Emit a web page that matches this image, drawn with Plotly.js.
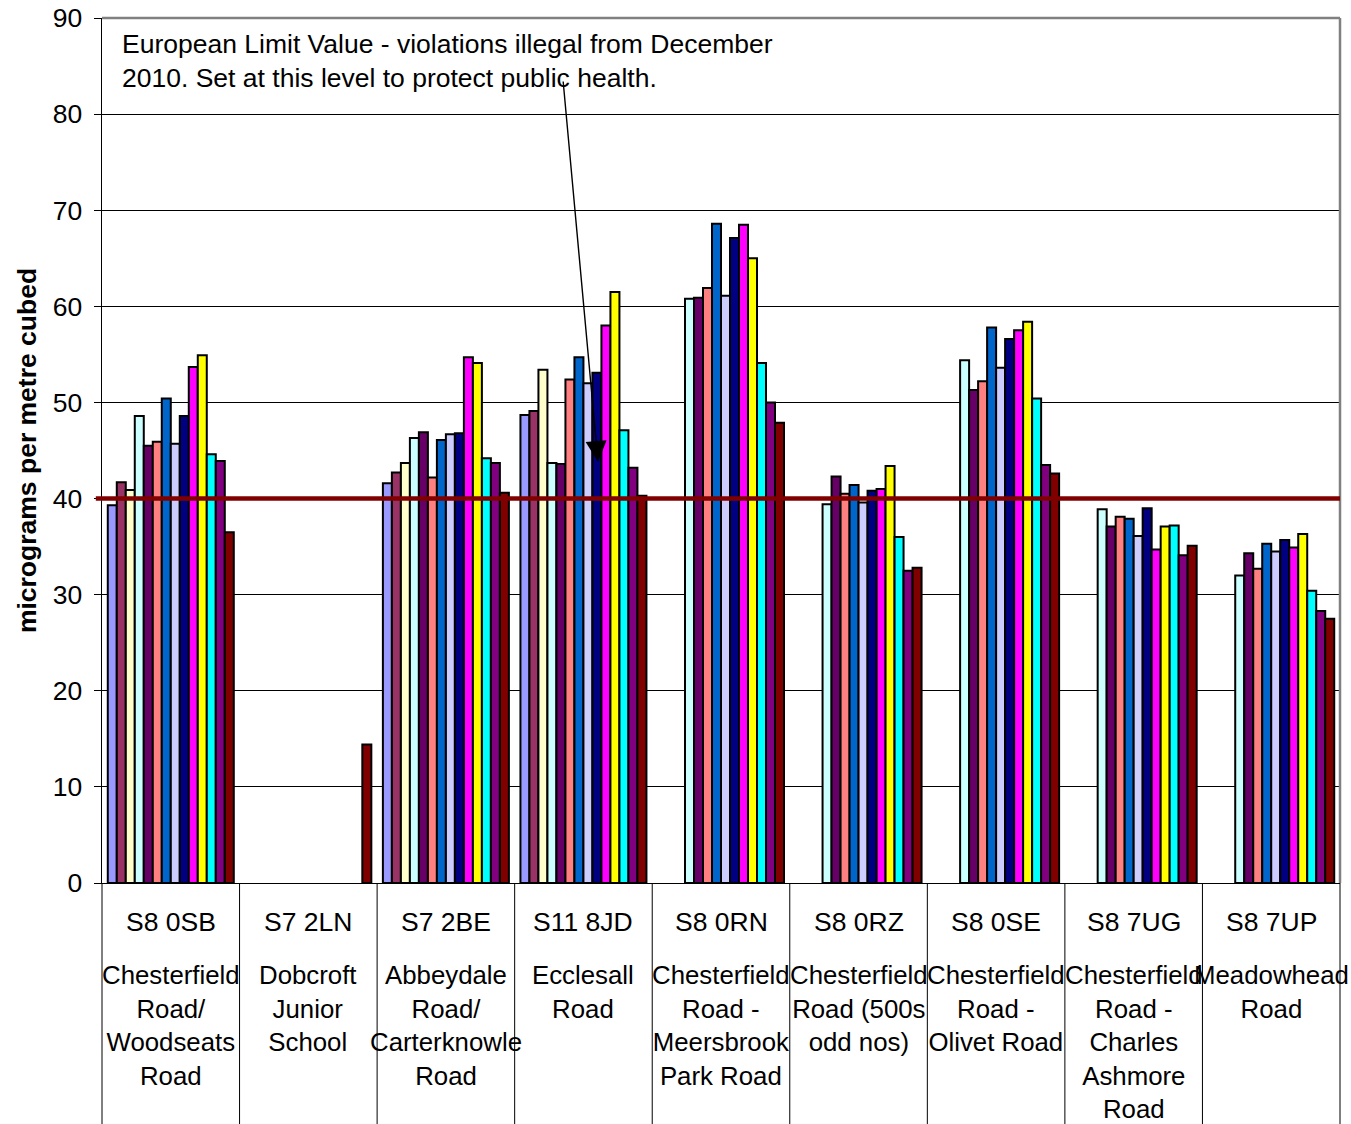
<!DOCTYPE html>
<html>
<head>
<meta charset="utf-8">
<script src="https://cdn.plot.ly/plotly-3.0.1.min.js"></script>
<style>html,body{margin:0;padding:0;background:#fff;}#chart{width:1351px;height:1124px;}</style>
</head>
<body>
<div id="chart"></div>
<script>
// ---- data ----
const siteCodes = ["S8 0SB","S7 2LN","S7 2BE","S11 8JD","S8 0RN","S8 0RZ","S8 0SE","S8 7UG","S8 7UP"];
const siteNames = [
  "Chesterfield<br>Road/<br>Woodseats<br>Road",
  "Dobcroft<br>Junior<br>School",
  "Abbeydale<br>Road/<br>Carterknowle<br>Road",
  "Ecclesall<br>Road",
  "Chesterfield<br>Road -<br>Meersbrook<br>Park Road",
  "Chesterfield<br>Road (500s<br>odd nos)",
  "Chesterfield<br>Road -<br>Olivet Road",
  "Chesterfield<br>Road -<br>Charles<br>Ashmore<br>Road",
  "Meadowhead<br>Road"
];
const series01 = [39.3, null, 41.6, 48.7, null, null, null, null, null];
const series02 = [41.7, null, 42.7, 49.1, null, null, null, null, null];
const series03 = [40.9, null, 43.7, 53.4, null, null, null, null, null];
const series04 = [48.6, null, 46.3, 43.7, 60.8, 39.4, 54.4, 38.9, 32.0];
const series05 = [45.5, null, 46.9, 43.6, 60.9, 42.3, 51.3, 37.1, 34.3];
const series06 = [45.9, null, 42.2, 52.4, 61.9, 40.5, 52.2, 38.1, 32.7];
const series07 = [50.4, null, 46.1, 54.7, 68.6, 41.4, 57.8, 37.9, 35.3];
const series08 = [45.7, null, 46.7, 52.0, 61.1, 39.6, 53.6, 36.1, 34.5];
const series09 = [48.6, null, 46.8, 53.1, 67.1, 40.8, 56.6, 39.0, 35.7];
const series10 = [53.7, null, 54.7, 58.0, 68.5, 41.0, 57.5, 34.7, 34.9];
const series11 = [54.9, null, 54.1, 61.5, 65.0, 43.4, 58.4, 37.1, 36.3];
const series12 = [44.6, null, 44.2, 47.1, 54.1, 36.0, 50.4, 37.2, 30.4];
const series13 = [43.9, null, 43.7, 43.2, 50.0, 32.5, 43.5, 34.1, 28.3];
const series14 = [36.5, 14.4, 40.6, 40.3, 47.9, 32.8, 42.6, 35.1, 27.5];
const limitValue = 40;
const yTickVals = [0,10,20,30,40,50,60,70,80,90];
const yTitle = "micrograms per metre cubed";
const noteText = "European Limit Value - violations illegal from December<br>2010. Set at this level to protect public health.";

// ---- styles ----
const allSeries = [series01,series02,series03,series04,series05,series06,series07,
                   series08,series09,series10,series11,series12,series13,series14];
const colors = ["#9999FF","#993366","#FFFFCC","#CCFFFF","#660066","#FF8080","#0066CC",
                "#CCCCFF","#000080","#FF00FF","#FFFF00","#00FFFF","#800080","#800000"];
const FONT = "Liberation Sans, Arial, sans-serif";
const FS = 26.5;
const xIdx = siteCodes.map((_, i) => i);

const traces = allSeries.map((vals, k) => ({
  type: "bar",
  x: xIdx,
  y: vals,
  name: "Series " + (k + 1),
  marker: {color: colors[k], line: {color: "#000", width: 2}},
  hoverinfo: "y"
}));

const annotations = [];
siteCodes.forEach((c, i) => {
  annotations.push({x: i, xref: "x", y: 0, yref: "paper", yanchor: "middle", yshift: -39,
    text: c, showarrow: false, font: {family: FONT, size: FS, color: "#000"}});
  annotations.push({x: i, xref: "x", y: 0, yref: "paper", yanchor: "top", yshift: -75.5,
    text: siteNames[i], showarrow: false, align: "center",
    font: {family: FONT, size: 25.8, color: "#000"}});
});
annotations.push({x: 0.0145, xref: "paper", y: 1, yref: "paper", xanchor: "left", yanchor: "top",
  yshift: -9, align: "left", text: noteText, showarrow: false,
  font: {family: FONT, size: FS, color: "#000"}});
annotations.push({x: 3.106, xref: "x", y: 43.8, yref: "y", ax: -35, ay: -382, text: "",
  showarrow: true, arrowhead: 2, arrowsize: 3, arrowwidth: 1.4, arrowcolor: "#000"});

const shapes = [];
for (let i = 0; i <= siteCodes.length; i++) {
  shapes.push({type: "line", xref: "paper", yref: "paper", x0: i / siteCodes.length,
    x1: i / siteCodes.length, y0: 0, y1: -241 / 865, line: {color: "#000", width: 1}});
}
shapes.push({type: "line", xref: "paper", yref: "paper", x0: 0, x1: 1, y0: 1, y1: 1,
  line: {color: "#808080", width: 2.5}});
shapes.push({type: "line", xref: "paper", yref: "paper", x0: 1, x1: 1, y0: 0, y1: 1,
  line: {color: "#808080", width: 2.5}});
shapes.push({type: "line", xref: "paper", yref: "y", x0: -0.005, x1: 1, y0: limitValue, y1: limitValue,
  line: {color: "#800000", width: 4.5}});

const layout = {
  width: 1351, height: 1124,
  margin: {l: 102, r: 11, t: 18, b: 241, pad: 0},
  paper_bgcolor: "#fff", plot_bgcolor: "#fff",
  font: {family: FONT, size: FS, color: "#000"},
  showlegend: false,
  barmode: "group", bargap: 0.084, bargroupgap: 0,
  xaxis: {range: [-0.5, siteCodes.length - 0.5], showticklabels: false, showgrid: false,
    zeroline: false, showline: true, linecolor: "#000", linewidth: 1, ticks: "", fixedrange: true},
  yaxis: {range: [0, 90], tickvals: yTickVals, showgrid: true, gridcolor: "#000", gridwidth: 1,
    zeroline: false, showline: true, linecolor: "#000", linewidth: 1.5, ticks: "outside",
    ticklen: 7, tickcolor: "#000", ticklabelstandoff: 6,
    tickfont: {family: FONT, size: FS, color: "#000"},
    title: {text: yTitle, font: {family: FONT, size: FS, color: "#000", weight: "bold"}, standoff: 8}},
  annotations: annotations,
  shapes: shapes
};

Plotly.newPlot("chart", traces, layout, {displayModeBar: false, staticPlot: true});
</script>
</body>
</html>
